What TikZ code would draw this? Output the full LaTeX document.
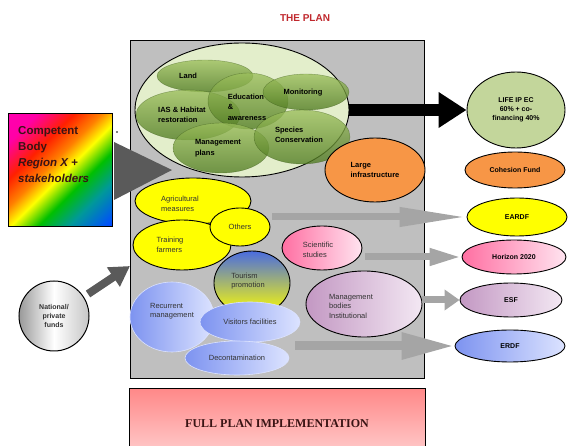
\documentclass[tikz,border=0pt]{standalone}
\usepackage{fontspec}
\setmainfont{Liberation Sans}
\newfontfamily\serifplan{Liberation Serif}
\usepackage{tikz}
\usetikzlibrary{shapes.geometric,arrows.meta,calc}
\definecolor{plangray}{HTML}{BFBFBF}
\definecolor{planred}{HTML}{C0282D}
\definecolor{leaf}{HTML}{E3EECB}
\definecolor{greentop}{HTML}{9CBF5C}
\definecolor{greenbot}{HTML}{4F7A20}
\definecolor{olive}{HTML}{C3D69B}
\definecolor{orangef}{HTML}{F79646}
\definecolor{yel}{HTML}{FFFF00}
\definecolor{pinkd}{HTML}{FF6FA2}
\definecolor{pinkl}{HTML}{FFE4F0}
\definecolor{lilacd}{HTML}{C398C3}
\definecolor{lilacl}{HTML}{F3E8F3}
\definecolor{blued}{HTML}{7D93F0}
\definecolor{bluel}{HTML}{DCE3FF}
\definecolor{tourblue}{HTML}{4A6CE0}
\definecolor{arrowgray}{HTML}{A5A5A5}
\definecolor{darkgray}{HTML}{5A5A5A}
\definecolor{textdark}{HTML}{333333}
\definecolor{bodytext}{HTML}{3A1414}
\definecolor{salmon}{HTML}{FF8888}
\definecolor{salmonl}{HTML}{FFCACA}
\pgfdeclarehorizontalshading{rainbow}{100bp}{color(0bp)=(magenta!75!red);
  color(24bp)=(magenta!65!red); color(36bp)=(red!75!orange); color(45bp)=(orange);
  color(52bp)=(yellow); color(61bp)=(green!75!black); color(71bp)=(teal!80!cyan);
  color(84bp)=(blue!70!cyan); color(100bp)=(blue!70!cyan)}
\tikzset{
  frame/.style={draw=black, line width=1.4pt},
  oval/.style={ellipse, draw=black, line width=0.9pt, inner sep=0pt},
  paleoval/.style={ellipse, draw=bluel, line width=0.6pt, inner sep=0pt, left color=blued, right color=bluel},
  leafoval/.style={ellipse, inner sep=0pt, draw=greenbot!70!black, line width=0.4pt,
    top color=greentop, bottom color=greenbot, fill opacity=0.78, draw opacity=0.5},
  fund/.style={oval, font=\bfseries\fontsize{7}{9}\selectfont, align=center},
  lab/.style={font=\fontsize{7.5}{9.5}\selectfont, text=textdark, align=left, inner sep=0pt},
  labb/.style={font=\bfseries\fontsize{7.5}{10.5}\selectfont, text=black, align=left, inner sep=0pt},
  flow/.style={draw=arrowgray, line width=7pt, -{Triangle[#1]}},
}

\begin{document}
\begin{tikzpicture}[x=1pt,y=-1pt]
  \useasboundingbox (0,0) rectangle (571,446);
  \node[font=\bfseries\fontsize{10}{12}\selectfont, text=planred] (title) at (305,18) {THE PLAN};
  % the plan frame
  \node[frame, fill=plangray, minimum width=294, minimum height=338, anchor=north west, inner sep=0pt] (plan) at (130,40) {};
  \node[frame, line width=1pt, top color=salmon, bottom color=salmonl, minimum width=296, minimum height=64, anchor=north west, inner sep=0pt] (full) at (129,388) {};
  \node[font=\serifplan\bfseries\fontsize{12}{14}\selectfont, text=bodytext] (fulltxt) at (277,424) {FULL PLAN IMPLEMENTATION};
  % competent body
  \node[draw=black, line width=1pt, shading=rainbow, shading angle=-45, minimum width=104, minimum height=113, anchor=north west, inner sep=0pt] (body) at (8,113) {};
  \node[font=\bfseries\fontsize{11.5}{16}\selectfont, text=bodytext, align=left, anchor=west, inner sep=0pt] (bodytxt) at (18,155)
    {Competent\\Body\\\textit{Region X +}\\\textit{stakeholders}};
  \fill (117,132) circle (0.8);
  \fill[darkgray] ($(body.east)+(1,-28)$) -- ($(body.east)+(1,30)$) -- (172,170) -- cycle;
  % national funds
  \node[circle, draw=black, line width=1pt, inner sep=0pt, minimum size=70, left color=gray!80, right color=gray!45, middle color=white] (national) at (54,316) {};
  \node[font=\bfseries\fontsize{7}{9}\selectfont, text=textdark, align=center, inner sep=0pt] at (national) {National/\\private\\funds};
  \coordinate (planin) at (130,266);
  \draw[draw=darkgray, line width=8pt, -{Triangle[length=20pt,width=22pt]}] ($(national.center)+(34,-22)$) -- (planin);
  % core actions
  \node[oval, fill=leaf, minimum width=214, minimum height=134] (core) at (242,110) {};
  \node[leafoval, minimum width=96, minimum height=32] (land) at (205,76) {};
  \node[leafoval, minimum width=104, minimum height=50] (ias) at (188,115) {};
  \node[leafoval, minimum width=80, minimum height=56] (edu) at (248,101) {};
  \node[leafoval, minimum width=86, minimum height=36] (monitor) at (306,92) {};
  \node[leafoval, minimum width=96, minimum height=50] (mplans) at (221,148) {};
  \node[leafoval, minimum width=96, minimum height=54] (species) at (302,137) {};
  \node[labb] at (188,76) {Land};
  \node[labb] at (182,115) {IAS \& Habitat\\restoration};
  \node[labb] at (247,107) {Education\\\&\\awareness};
  \node[labb] at (303,93) {Monitoring};
  \node[labb] at (299,135) {Species\\Conservation};
  \node[labb] at (218,148) {Management\\plans};
  % other measures
  \node[oval, fill=orangef, minimum width=100, minimum height=64, font=\bfseries\fontsize{7.5}{10}\selectfont, align=left] (infra) at (375,170) {Large\\infrastructure};
  \node[oval, fill=yel, minimum width=116, minimum height=46] (agri) at (193,201) {};
  \node[lab] at (180,204) {Agricultural\\measures};
  \node[oval, fill=yel, minimum width=98, minimum height=50] (train) at (182,245) {};
  \node[lab] at (170,245) {Training\\farmers};
  \node[oval, fill=yel, minimum width=60, minimum height=38, font=\fontsize{7.5}{9.5}\selectfont, text=textdark] (others) at (240,227) {Others};
  \node[oval, left color=pinkd, right color=pinkl, minimum width=80, minimum height=44] (sci) at (322,248) {};
  \node[lab] at (318,250) {Scientific\\studies};
  \node[oval, top color=tourblue, middle color=gray!20, bottom color=yel, minimum width=76, minimum height=64] (tour) at (252,283) {};
  \node[lab] at (248,281) {Tourism\\promotion};
  \node[paleoval, minimum width=84, minimum height=70] (recur) at (172,317) {};
  \node[lab] at (172,311) {Recurrent\\management};
  \node[paleoval, minimum width=100, minimum height=40, font=\fontsize{7.5}{9.5}\selectfont, text=textdark] (visit) at (250,322) {Visitors facilities};
  \node[paleoval, minimum width=104, minimum height=34, font=\fontsize{7.5}{9.5}\selectfont, text=textdark] (decon) at (237,358) {Decontamination};
  \node[oval, left color=lilacd, right color=lilacl, minimum width=116, minimum height=66] (bodies) at (364,304) {};
  \node[lab] at (351,306) {Management\\bodies\\Institutional};
  % funds
  \node[fund, fill=olive, minimum width=98, minimum height=76] (life) at (516,110) {LIFE IP EC\\60\% + co-\\financing 40\%};
  \node[fund, fill=orangef, minimum width=100, minimum height=36] (cohesion) at (515,170) {Cohesion Fund};
  \node[fund, fill=yel, minimum width=100, minimum height=38] (eardf) at (517,217) {EARDF};
  \node[fund, left color=pinkd, right color=pinkl, minimum width=104, minimum height=34] (horizon) at (514,257) {Horizon 2020};
  \node[fund, left color=lilacd, right color=lilacl, minimum width=102, minimum height=34] (esf) at (511,300) {ESF};
  \node[fund, left color=blued, right color=bluel, minimum width=110, minimum height=32] (erdf) at (510,346) {ERDF};
  % flows
  \draw[draw=black, line width=12pt, -{Triangle[length=28pt,width=34pt]}] (core.east) -- (life.west);
  \draw[flow={length=67pt,width=18pt}] ([xshift=2pt]others.east |- eardf.west) -- (eardf.west);
  \draw[flow={length=32pt,width=16pt}] ([xshift=3pt]sci.east |- horizon.west) -- (horizon.west);
  \draw[flow={length=15pt,width=20pt}] (bodies.east |- esf.west) -- (esf.west);
  \draw[flow={length=53pt,width=25pt}, line width=9pt] ([xshift=6pt]decon.east |- erdf.west) -- (erdf.west);
\end{tikzpicture}
\end{document}
